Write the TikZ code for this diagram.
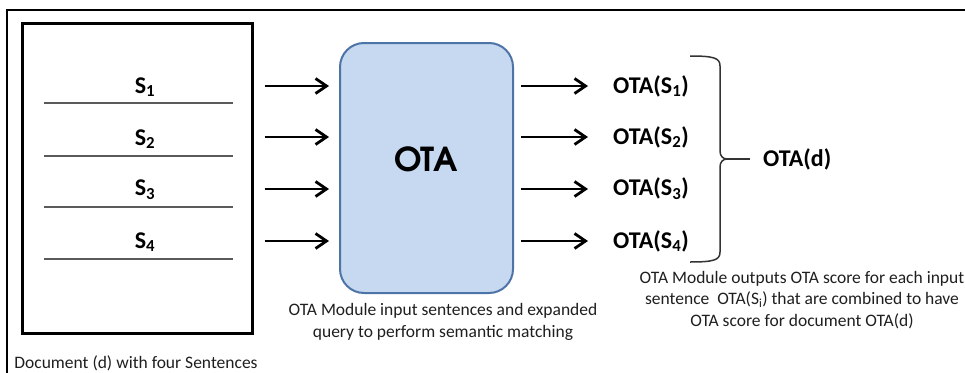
\documentclass[tikz,border=0pt]{standalone}
\usepackage{fontspec}
\setmainfont{Carlito}
\newfontfamily\gothicfont{texgyreadventor-bold.otf}
\usetikzlibrary{arrows.meta}
\definecolor{modfill}{HTML}{C6D9F1}
\definecolor{modline}{HTML}{4D74A6}
\definecolor{rulegray}{HTML}{5A5A5A}
\begin{document}
\begin{tikzpicture}[x=1pt,y=-1pt,
  frame/.style={line width=2.5pt,black},
  docbox/.style={draw,line width=3pt,minimum width=230pt,minimum height=310pt,inner sep=0pt},
  sepline/.style={line width=2pt,rulegray},
  module/.style={draw=modline,fill=modfill,line width=2pt,rounded corners=24pt,
    minimum width=173pt,minimum height=250pt,inner sep=0pt},
  flow/.style={line width=2.8pt,-{Straight Barb[length=11pt,width=15pt,line width=2.8pt]}},
  sent/.style={font=\fontsize{24}{28}\selectfont\bfseries,inner sep=0pt},
  big/.style={font=\fontsize{33}{36}\selectfont\gothicfont,inner sep=0pt},
  note/.style={font=\fontsize{17.5}{21.5}\selectfont,align=center,inner sep=0pt,text=black!88},
  brace/.style={line width=1.5pt,black!80}]
\useasboundingbox (0,0) rectangle (965,372);
\fill[white] (0,0) rectangle (965,372);

% outer frame (open to the right and bottom)
\draw[frame] (7,380) -- (7,10) -- (975,10);

% document with its four sentences
\node[docbox] (doc) at (137,178) {};
\foreach \y in {103,156,207,259}
  \draw[sepline] (44,\y) -- (233,\y);
\node[sent] (s1) at (145,87) {S\textsubscript{1}};
\node[sent] (s2) at (145,139) {S\textsubscript{2}};
\node[sent] (s3) at (145,190) {S\textsubscript{3}};
\node[sent] (s4) at (145,242) {S\textsubscript{4}};
\node[note,anchor=base] (doccap) at (136,368) {Document (d) with four Sentences};

% OTA module
\node[module] (ota) at (426.5,168) {};
\node[big] (otaname) at (426,159) {OTA};
% multi-line captions: the base anchor sits on the last line
\node[note,anchor=base] (otacap) at (443,337)
  {OTA Module input sentences and expanded\\query to perform semantic matching};

% per-sentence scores
\node[sent,anchor=west] (o1) at (613,86) {OTA(S\textsubscript{1})};
\node[sent,anchor=west] (o2) at (613,137) {OTA(S\textsubscript{2})};
\node[sent,anchor=west] (o3) at (613,189) {OTA(S\textsubscript{3})};
\node[sent,anchor=west] (o4) at (613,241) {OTA(S\textsubscript{4})};

% sentences into the module, scores out of it
\foreach \s/\o in {s1/o1,s2/o2,s3/o3,s4/o4}{
  \draw[flow,shorten <=11pt,shorten >=10pt] (doc.east |- \o.west) -- (ota.west |- \o.west);
  \draw[flow,shorten <=7pt,shorten >=25pt] (ota.east |- \o.west) -- (\o.west);
}

% combining brace and document score
\coordinate (tip) at (727,159);
\draw[brace] (690,56) .. controls (714,56) and (720,58) .. (720,66) -- (720,151)
  .. controls (720,156) and (723,159) .. (tip)
  .. controls (723,159) and (720,162) .. (720,167) -- (720,252)
  .. controls (720,260) and (714,262) .. (690,262);
\node[sent,anchor=west] (otad) at (763,159) {OTA(d)};
\draw[brace,shorten >=13pt] (tip) -- (otad.west);
\node[note,anchor=base] (scorecap) at (802,326)
  {OTA Module outputs OTA score for each input\\sentence\ \ OTA(S\textsubscript{i}) that are combined to have\\OTA score for document OTA(d)};
\end{tikzpicture}
\end{document}
